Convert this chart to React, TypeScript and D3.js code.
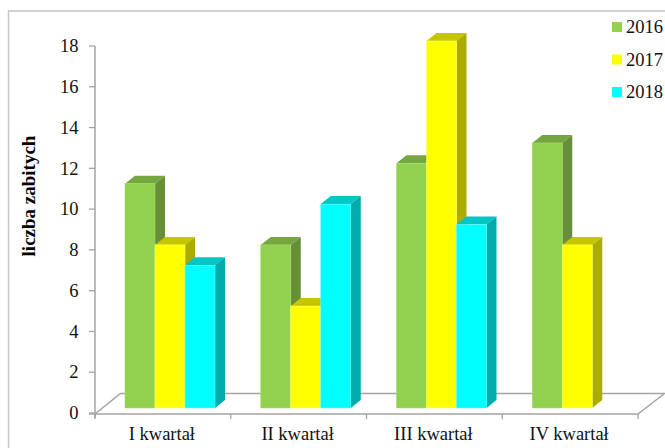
import React from "react";
import * as d3 from "d3";

const quarters = ["I kwartał", "II kwartał", "III kwartał", "IV kwartał"];
const years = ["2016", "2017", "2018"];
const values2016 = [11, 8, 12, 13];
const values2017 = [8, 5, 18, 8];
const values2018: (number | null)[] = [7, 10, 9, null];
const yTicks = [0, 2, 4, 6, 8, 10, 12, 14, 16, 18];
const yTitle = "liczba zabitych";

const seriesValues = [values2016, values2017, values2018];
const faceColors = ["#92D050", "#FFFF00", "#00FFFF"];
const edgeColors = ["#A8DC70", "#FFFF60", "#60FFFF"];
const topColors = ["#76A640", "#C6C600", "#00C6C6"];
const sideColors = ["#668F38", "#ABAB00", "#00ABAB"];

const WIDTH = 665;
const HEIGHT = 448;
const serif = "'Liberation Serif', serif";
const axisColor = "#A3A3A3";

// Projection of the floor: bars stand part way into the oblique depth.
const DEPTH_X = 10;
const DEPTH_Y = 8;
const FLOOR_X = 25.5;
const FLOOR_Y = 19.5;
const BAR_WIDTH = 30;
const BAR_LIFT = 5;

const x = d3.scaleBand<string>().domain(quarters).range([95, 638]);
const yAxis = d3.scaleLinear().domain([0, 18]).range([413, 46]);
const yBar = (v: number) => yAxis(v) - BAR_LIFT;

function Bar({ series, index, value }: { series: number; index: number; value: number }) {
  const left = (x(quarters[index]) as number) + 30 + series * BAR_WIDTH;
  const right = left + BAR_WIDTH;
  const top = yBar(value);
  const bottom = yBar(0);
  const path = d3.path();
  path.moveTo(left, top);
  path.lineTo(left + DEPTH_X, top - DEPTH_Y);
  path.lineTo(right + DEPTH_X, top - DEPTH_Y);
  path.lineTo(right, top);
  path.closePath();
  const side = d3.path();
  side.moveTo(right, top);
  side.lineTo(right + DEPTH_X, top - DEPTH_Y);
  side.lineTo(right + DEPTH_X, bottom - DEPTH_Y);
  side.lineTo(right, bottom);
  side.closePath();
  return (
    <g>
      <path d={path.toString()} fill={topColors[series]} />
      <path d={side.toString()} fill={sideColors[series]} />
      <rect
        x={left}
        y={top}
        width={BAR_WIDTH}
        height={bottom - top}
        fill={faceColors[series]}
        stroke={edgeColors[series]}
        strokeWidth={0.6}
      />
    </g>
  );
}

export default function App() {
  const x0 = x.range()[0];
  const x1 = x.range()[1];
  const y0 = yAxis(0);
  const floor = d3.path();
  floor.moveTo(x0, y0 + 1);
  floor.lineTo(x0 + FLOOR_X, y0 - FLOOR_Y);
  floor.lineTo(x1 + FLOOR_X + 1, y0 - FLOOR_Y);
  floor.lineTo(x1, y0 + 1);

  const categoryEdges = [...quarters.map((q) => x(q) as number), x1];

  return (
    <svg
      width={WIDTH}
      height={HEIGHT}
      viewBox={`0 0 ${WIDTH} ${HEIGHT}`}
      style={{ position: "absolute", left: 0, top: 0, display: "block", background: "#fff" }}
    >
      <path d={`M8.5 ${HEIGHT} V11 H${WIDTH}`} fill="none" stroke="#C4C4C4" strokeWidth={1.4} />

      <path d={floor.toString()} fill="none" stroke={axisColor} strokeWidth={1.5} />

      <line x1={x0} x2={x0} y1={yAxis(18)} y2={y0 + 5} stroke={axisColor} strokeWidth={1.5} />
      <line x1={x0 - 6} x2={x1} y1={y0 + 1} y2={y0 + 1} stroke={axisColor} strokeWidth={1.5} />
      {yTicks.map((t) => (
        <g key={t}>
          <line x1={x0 - 6} x2={x0} y1={yAxis(t)} y2={yAxis(t)} stroke={axisColor} strokeWidth={1.3} />
          <text
            x={78.5}
            y={yAxis(t) + 2}
            textAnchor="end"
            dominantBaseline="middle"
            fontFamily={serif}
            fontSize={18.5}
            fill="#111"
          >
            {t}
          </text>
        </g>
      ))}
      {categoryEdges.map((edge) => (
        <line key={edge} x1={edge} x2={edge} y1={y0 + 1} y2={y0 + 6} stroke={axisColor} strokeWidth={1.3} />
      ))}

      {seriesValues.map((vals, s) =>
        vals.map((v, i) => (v === null ? null : <Bar key={`${s}-${i}`} series={s} index={i} value={v} />))
      )}

      {quarters.map((q) => (
        <text
          key={q}
          x={(x(q) as number) + x.bandwidth() / 2 - 1}
          y={440}
          textAnchor="middle"
          fontFamily={serif}
          fontSize={18.5}
          fill="#111"
        >
          {q}
        </text>
      ))}

      <text
        transform="translate(35,196) rotate(-90)"
        textAnchor="middle"
        fontFamily={serif}
        fontSize={19}
        fontWeight="bold"
        fill="#000"
      >
        {yTitle}
      </text>

      {years.map((year, i) => (
        <g key={year}>
          <rect x={612} y={22 + i * 32.5} width={10} height={10} fill={faceColors[i]} />
          <text x={626} y={33 + i * 32.5} fontFamily={serif} fontSize={18.5} fill="#111">
            {year}
          </text>
        </g>
      ))}
    </svg>
  );
}
